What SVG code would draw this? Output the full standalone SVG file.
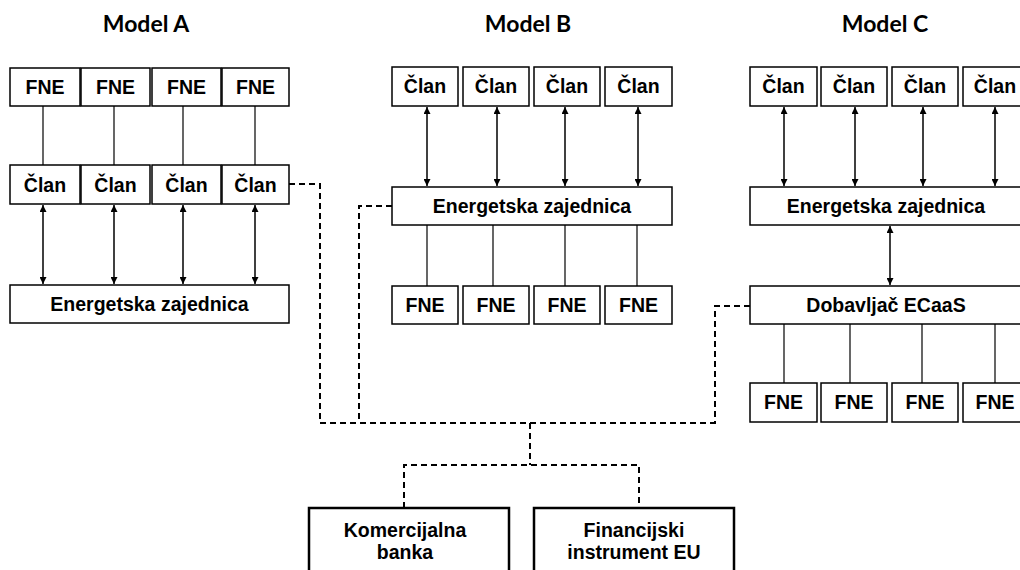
<svg xmlns="http://www.w3.org/2000/svg" width="1020" height="570" viewBox="0 0 1020 570">
<style>
.box{fill:#fff;stroke:#000;stroke-width:1.5}
.big{fill:#fff;stroke:#000;stroke-width:2.5}
.t{font-family:"Liberation Sans",Arial,sans-serif;font-weight:bold;font-size:19.5px;text-anchor:middle;fill:#000}
.title{font-family:Lato,"Open Sans",sans-serif;font-weight:bold;font-size:23px;text-anchor:middle;fill:#000}
.ln{stroke:#000;stroke-width:1.2;fill:none}
.ar{stroke:#000;stroke-width:1.5;fill:none;marker-start:url(#ah);marker-end:url(#ah)}
.ds{stroke:#000;stroke-width:2;fill:none;stroke-dasharray:6,4}
</style>
<defs>
<marker id="ah" viewBox="0 0 10 10" refX="10" refY="5" markerWidth="7" markerHeight="7" markerUnits="userSpaceOnUse" orient="auto-start-reverse">
<path d="M0,0 L10,5 L0,10 z" fill="#000"/>
</marker>
</defs>
<rect width="1020" height="570" fill="#fff"/>
<text class="title" x="146" y="32">Model A</text>
<text class="title" x="528" y="32">Model B</text>
<text class="title" x="885" y="32">Model C</text>
<g id="connectors">
<line class="ln" x1="43" y1="106" x2="43" y2="165"/>
<line class="ln" x1="114" y1="106" x2="114" y2="165"/>
<line class="ln" x1="183" y1="106" x2="183" y2="165"/>
<line class="ln" x1="255" y1="106" x2="255" y2="165"/>
<line class="ar" x1="43" y1="205" x2="43" y2="284"/>
<line class="ar" x1="114" y1="205" x2="114" y2="284"/>
<line class="ar" x1="183" y1="205" x2="183" y2="284"/>
<line class="ar" x1="255" y1="205" x2="255" y2="284"/>
<line class="ar" x1="427" y1="107" x2="427" y2="186"/>
<line class="ar" x1="497" y1="107" x2="497" y2="186"/>
<line class="ar" x1="565" y1="107" x2="565" y2="186"/>
<line class="ar" x1="638" y1="107" x2="638" y2="186"/>
<line class="ln" x1="427" y1="225" x2="427" y2="286"/>
<line class="ln" x1="493" y1="225" x2="493" y2="286"/>
<line class="ln" x1="565" y1="225" x2="565" y2="286"/>
<line class="ln" x1="637" y1="225" x2="637" y2="286"/>
<line class="ar" x1="784" y1="107" x2="784" y2="186"/>
<line class="ar" x1="855" y1="107" x2="855" y2="186"/>
<line class="ar" x1="923" y1="107" x2="923" y2="186"/>
<line class="ar" x1="995" y1="107" x2="995" y2="186"/>
<line class="ar" x1="890" y1="226" x2="890" y2="285"/>
<line class="ln" x1="784" y1="324" x2="784" y2="383"/>
<line class="ln" x1="850" y1="324" x2="850" y2="383"/>
<line class="ln" x1="922" y1="324" x2="922" y2="383"/>
<line class="ln" x1="995" y1="324" x2="995" y2="383"/>
<path class="ds" d="M289,184 H320 V423 H717"/>
<path class="ds" d="M392,206 H359 V423"/>
<path class="ds" d="M750,306 H715 V423"/>
<path class="ds" d="M530,423 V465"/>
<path class="ds" d="M404,508 V465 H639 V508"/>
</g>
<g id="modelA">
<g id="a-fne1"><rect class="box" x="10" y="68" width="70" height="38"/><text class="t" x="45" y="94">FNE</text></g>
<g id="a-fne2"><rect class="box" x="81" y="68" width="69" height="38"/><text class="t" x="115.5" y="94">FNE</text></g>
<g id="a-fne3"><rect class="box" x="152" y="68" width="69" height="38"/><text class="t" x="186.5" y="94">FNE</text></g>
<g id="a-fne4"><rect class="box" x="222" y="68" width="67" height="38"/><text class="t" x="255.5" y="94">FNE</text></g>
<g id="a-clan1"><rect class="box" x="10" y="165" width="70" height="39"/><text class="t" x="45" y="192">Član</text></g>
<g id="a-clan2"><rect class="box" x="81" y="165" width="69" height="39"/><text class="t" x="115.5" y="192">Član</text></g>
<g id="a-clan3"><rect class="box" x="152" y="165" width="69" height="39"/><text class="t" x="186.5" y="192">Član</text></g>
<g id="a-clan4"><rect class="box" x="222" y="165" width="67" height="39"/><text class="t" x="255.5" y="192">Član</text></g>
<g id="a-ez"><rect class="box" x="10" y="285" width="279" height="38"/><text class="t" x="149.5" y="311">Energetska zajednica</text></g>
</g>
<g id="modelB">
<g id="b-clan1"><rect class="box" x="392" y="67" width="66" height="39"/><text class="t" x="425" y="93">Član</text></g>
<g id="b-clan2"><rect class="box" x="463" y="67" width="66" height="39"/><text class="t" x="496" y="93">Član</text></g>
<g id="b-clan3"><rect class="box" x="534" y="67" width="66" height="39"/><text class="t" x="567" y="93">Član</text></g>
<g id="b-clan4"><rect class="box" x="605" y="67" width="67" height="39"/><text class="t" x="638.5" y="93">Član</text></g>
<g id="b-ez"><rect class="box" x="392" y="187" width="280" height="38"/><text class="t" x="532" y="213">Energetska zajednica</text></g>
<g id="b-fne1"><rect class="box" x="392" y="286" width="66" height="38"/><text class="t" x="425" y="312">FNE</text></g>
<g id="b-fne2"><rect class="box" x="463" y="286" width="66" height="38"/><text class="t" x="496" y="312">FNE</text></g>
<g id="b-fne3"><rect class="box" x="534" y="286" width="66" height="38"/><text class="t" x="567" y="312">FNE</text></g>
<g id="b-fne4"><rect class="box" x="605" y="286" width="67" height="38"/><text class="t" x="638.5" y="312">FNE</text></g>
</g>
<g id="modelC">
<g id="c-clan1"><rect class="box" x="750" y="67" width="67" height="39"/><text class="t" x="783.5" y="93">Član</text></g>
<g id="c-clan2"><rect class="box" x="821" y="67" width="66" height="39"/><text class="t" x="854" y="93">Član</text></g>
<g id="c-clan3"><rect class="box" x="892" y="67" width="66" height="39"/><text class="t" x="925" y="93">Član</text></g>
<g id="c-clan4"><rect class="box" x="963" y="67" width="67" height="39"/><text class="t" x="995" y="93">Član</text></g>
<g id="c-ez"><rect class="box" x="750" y="187" width="290" height="38"/><text class="t" x="886" y="213">Energetska zajednica</text></g>
<g id="c-dob"><rect class="box" x="750" y="286" width="290" height="38"/><text class="t" x="886" y="312">Dobavljač ECaaS</text></g>
<g id="c-fne1"><rect class="box" x="750" y="383" width="67" height="39"/><text class="t" x="783.5" y="409">FNE</text></g>
<g id="c-fne2"><rect class="box" x="821" y="383" width="66" height="39"/><text class="t" x="854" y="409">FNE</text></g>
<g id="c-fne3"><rect class="box" x="892" y="383" width="66" height="39"/><text class="t" x="925" y="409">FNE</text></g>
<g id="c-fne4"><rect class="box" x="963" y="383" width="67" height="39"/><text class="t" x="995" y="409">FNE</text></g>
</g>
<g id="banka"><rect class="big" x="309" y="508" width="200" height="80"/><text class="t" x="405" y="537">Komercijalna</text><text class="t" x="405" y="559">banka</text></g>
<g id="eu"><rect class="big" x="534" y="508" width="200" height="80"/><text class="t" x="634" y="537">Financijski</text><text class="t" x="634" y="559">instrument EU</text></g>
</svg>
